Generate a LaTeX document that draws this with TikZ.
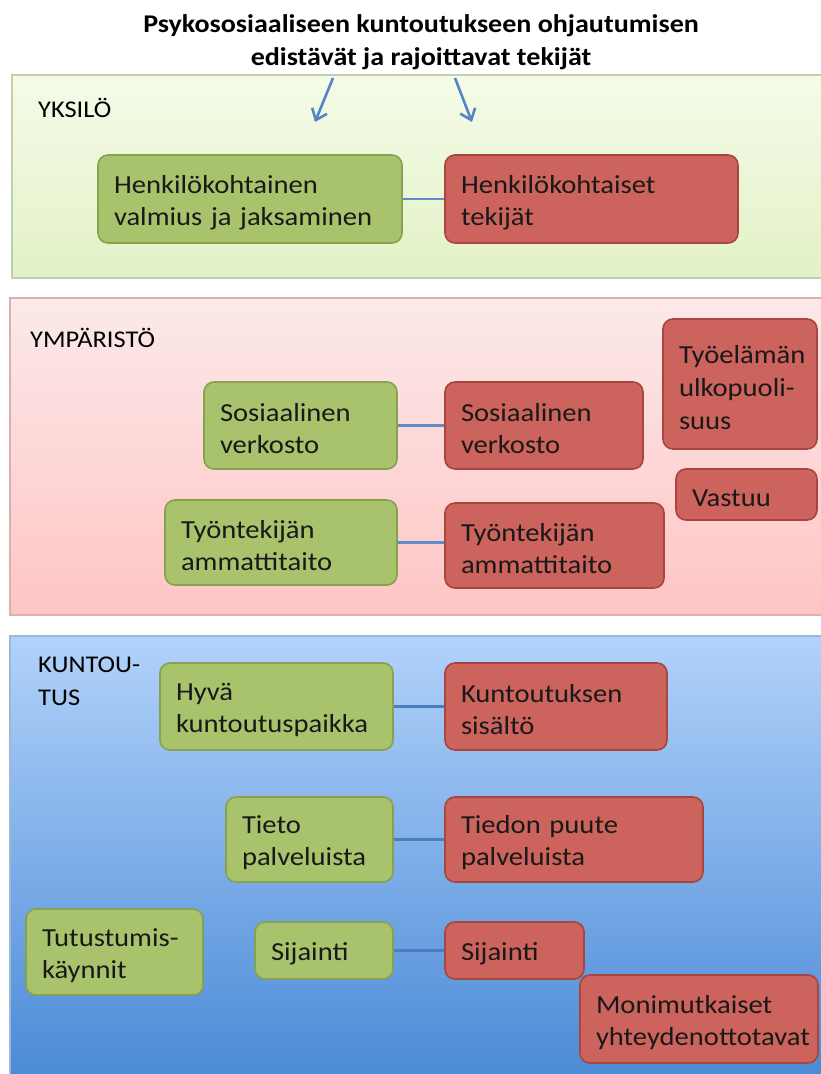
\documentclass[tikz,border=0pt]{standalone}
\usepackage{fontspec}
\setmainfont{Carlito}[FakeStretch=1.1]
\usetikzlibrary{arrows.meta}
\definecolor{gfill}{HTML}{A8C36C}
\definecolor{gline}{HTML}{86A250}
\definecolor{rfill}{HTML}{CD635D}
\definecolor{rline}{HTML}{A8453F}
\definecolor{conA}{HTML}{5E8DC8}
\definecolor{conB}{HTML}{4A7EBC}
\definecolor{p1top}{HTML}{F5FBE8}
\definecolor{p1bot}{HTML}{E2F1C6}
\definecolor{p1line}{HTML}{C2CFAE}
\definecolor{p2top}{HTML}{FCE9E9}
\definecolor{p2bot}{HTML}{FFC5C5}
\definecolor{p2line}{HTML}{DDB0B0}
\definecolor{p3top}{HTML}{B2D2FA}
\definecolor{p3bot}{HTML}{4A8AD6}
\definecolor{p3line}{HTML}{9AB8DC}
\definecolor{arrowc}{HTML}{5585C4}
\tikzset{
  box/.style={rounded corners=10pt, line width=1.6pt, inner xsep=16pt, inner ysep=0pt,
    align=left, font=\fontsize{26}{32}\selectfont, text=black!90,
    execute at begin node={\rule{0pt}{25pt}}},
  gbox/.style={box, fill=gfill, draw=gline},
  rbox/.style={box, fill=rfill, draw=rline},
  panel/.style={line width=1.2pt},
  conn/.style={line width=2.6pt, conA},
  connb/.style={line width=3.5pt, conB},
  lbl/.style={anchor=west, inner sep=0pt, align=left, font=\fontsize{24}{33}\selectfont},
  arr/.style={line width=2.6pt, arrowc, -{Straight Barb[length=10pt,width=16pt,line width=2.6pt]}}
}
\begin{document}
\begin{tikzpicture}[x=1pt,y=-1pt]
\useasboundingbox (0,0) rectangle (821,1074);
\fill[white] (0,0) rectangle (821,1074);
\clip (0,0) rectangle (821,1074);
% panels
\shade[top color=p1top, bottom color=p1bot] (12,75) rectangle (830,278);
\draw[panel, p1line] (830,75) -- (12,75) -- (12,278) -- (830,278);
\shade[top color=p2top, bottom color=p2bot] (10,298) rectangle (830,615);
\draw[panel, p2line] (830,298) -- (10,298) -- (10,615) -- (830,615);
\shade[top color=p3top, bottom color=p3bot] (10,636) rectangle (830,1080);
\draw[panel, p3line] (830,636) -- (10,636) -- (10,1080);
% title
\node[font=\bfseries\fontsize{25.5}{33}\selectfont, align=center] (title) at (421,42)
  {Psykososiaaliseen kuntoutukseen ohjautumisen\\edistävät ja rajoittavat tekijät};
\coordinate (a1s) at (333,78); \coordinate (a1e) at (315,122);
\coordinate (a2s) at (455,78); \coordinate (a2e) at (472,122);
\draw[arr] (a1s) -- (a1e);
\draw[arr] (a2s) -- (a2e);
% labels
\node[lbl] (l1) at (38,108) {YKSILÖ};
\node[lbl] (l2) at (30,338) {YMPÄRISTÖ};
\node[lbl] (l3) at (38,681) {KUNTOU-\\TUS};
% panel 1
\node[gbox, text width=272pt, minimum height=88pt] (g1) at (250,199) {Henkilökohtainen\\valmius ja jaksaminen};
\node[rbox, text width=261pt, minimum height=88pt] (r1) at (591.5,199) {Henkilökohtaiset\\tekijät};
\draw[conn] (g1.east) -- (g1.east -| r1.west);
% panel 2
\node[rbox, text width=122pt, minimum height=130pt, font=\fontsize{26}{33}\selectfont] (r0) at (740,384) {Työelämän\\ulkopuoli-\\suus};
\node[gbox, text width=161pt, minimum height=87pt] (g2) at (300.5,425.5) {Sosiaalinen\\verkosto};
\node[rbox, text width=166pt, minimum height=87pt] (r2) at (544,425.5) {Sosiaalinen\\verkosto};
\node[rbox, text width=109pt, minimum height=51pt] (rv) at (746.5,494.5) {Vastuu};
\node[gbox, text width=200pt, minimum height=85pt] (g3) at (281,542.5) {Työntekijän\\ammattitaito};
\node[rbox, text width=187pt, minimum height=85pt] (r3) at (554.5,545.5) {Työntekijän\\ammattitaito};
\draw[conn] (g2.east) -- (g2.east -| r2.west);
\draw[conn] (g3.east) -- (g3.east -| r3.west);
% panel 3
\node[gbox, text width=201pt, minimum height=87pt] (g4) at (276.5,706.5) {Hyvä\\kuntoutuspaikka};
\node[rbox, text width=190pt, minimum height=87pt] (r4) at (556,706.5) {Kuntoutuksen\\sisältö};
\node[gbox, text width=135pt, minimum height=85pt] (g5) at (309.5,839.5) {Tieto\\palveluista};
\node[rbox, text width=226pt, minimum height=85pt] (r5) at (574,839.5) {Tiedon puute\\palveluista};
\node[gbox, text width=145pt, minimum height=86pt] (g6) at (114.5,952) {Tutustumis-\\käynnit};
\node[gbox, text width=106pt, minimum height=57pt] (g7) at (324,950.5) {Sijainti};
\node[rbox, text width=107pt, minimum height=57pt] (r7) at (514.5,950.5) {Sijainti};
\node[rbox, text width=206pt, minimum height=88pt] (r8) at (699,1019) {Monimutkaiset\\yhteydenottotavat};
\draw[connb] (g4.east) -- (g4.east -| r4.west);
\draw[connb] (g5.east) -- (g5.east -| r5.west);
\draw[connb] (g7.east) -- (g7.east -| r7.west);
\end{tikzpicture}
\end{document}
